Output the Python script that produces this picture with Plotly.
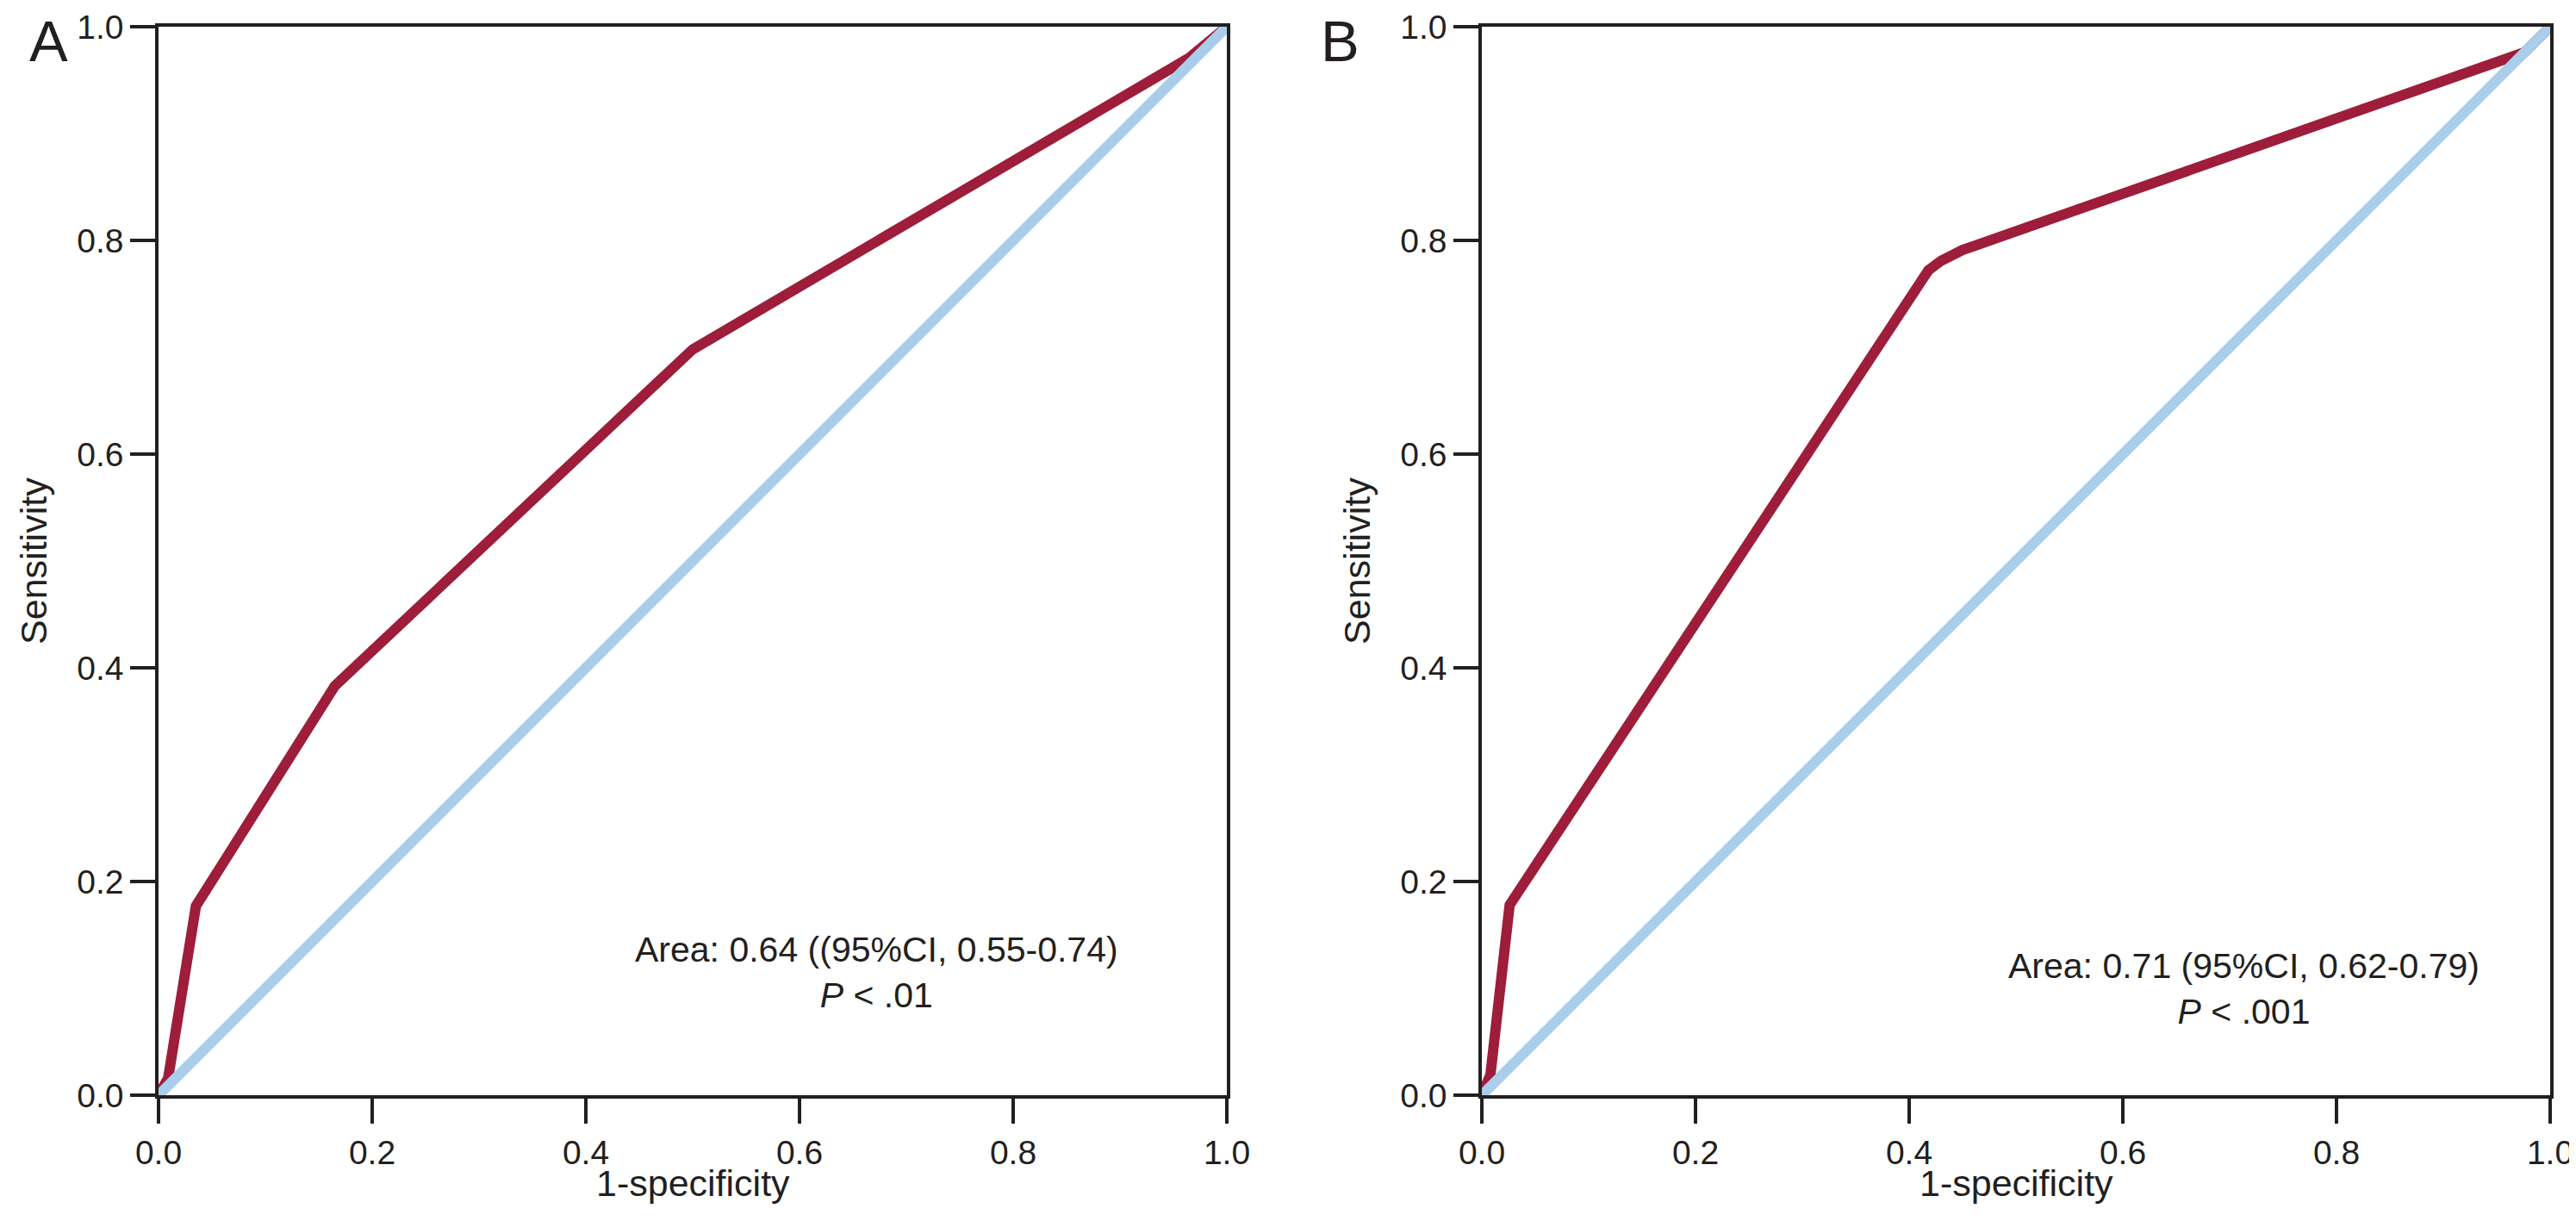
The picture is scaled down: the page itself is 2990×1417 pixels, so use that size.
import plotly.graph_objects as go

# Panel A ROC curve
fpr_a = [0.0, 0.009, 0.035, 0.165, 0.5, 0.965, 1.0]
tpr_a = [0.0, 0.016, 0.177, 0.383, 0.698, 0.971, 1.0]
# Panel B ROC curve
fpr_b = [0.0, 0.008, 0.026, 0.405, 0.418, 0.43, 0.45, 0.976, 1.0]
tpr_b = [0.0, 0.019, 0.178, 0.755, 0.772, 0.781, 0.791, 0.976, 1.0]
# Reference diagonal
diag = [0.0, 1.0]

tick_vals = [0.0, 0.2, 0.4, 0.6, 0.8, 1.0]
tick_text = ["0.0", "0.2", "0.4", "0.6", "0.8", "1.0"]

x_title = "1-specificity"
y_title = "Sensitivity"
panel_labels = ["A", "B"]
text_a = "Area: 0.64 ((95%CI, 0.55-0.74)<br><i>P</i> &lt; .01"
text_b = "Area: 0.71 (95%CI, 0.62-0.79)<br><i>P</i> &lt; .001"

RED = "#9D1D3B"
BLUE = "#A9CDEB"
INK = "#231F20"
FONT = "Liberation Sans, Arial, Helvetica, sans-serif"

W, H = 2990, 1417
ML, MR, MT, MB = 176, 38, 23, 154
pw = W - ML - MR
ph = H - MT - MB
side = 1240
b_left = W - MR - side

fig = go.Figure()
for xs, ys, xa, ya in [(fpr_a, tpr_a, "x", "y"), (fpr_b, tpr_b, "x2", "y2")]:
    fig.add_trace(go.Scatter(x=xs, y=ys, mode="lines", xaxis=xa, yaxis=ya,
                             line=dict(color=RED, width=12), showlegend=False,
                             hoverinfo="skip"))
    fig.add_trace(go.Scatter(x=diag, y=diag, mode="lines", xaxis=xa, yaxis=ya,
                             line=dict(color=BLUE, width=12), showlegend=False,
                             hoverinfo="skip"))

axis_common = dict(
    range=[0, 1], tickvals=tick_vals, ticktext=tick_text,
    showgrid=False, zeroline=False, showline=True, linecolor=INK,
    linewidth=3.5, mirror=True, ticks="outside", ticklen=29, tickwidth=3.5,
    tickcolor=INK, tickfont=dict(size=39, color=INK, family=FONT),
    fixedrange=True,
)
xdomA = [0, side / pw]
xdomB = [(b_left - ML) / pw, 1]

fig.update_layout(
    width=W, height=H,
    margin=dict(l=ML, r=MR, t=MT, b=MB, autoexpand=False),
    paper_bgcolor="white", plot_bgcolor="white",
    font=dict(family=FONT, color=INK),
    xaxis=dict(domain=xdomA, anchor="y", **axis_common),
    yaxis=dict(domain=[0, 1], anchor="x", **axis_common),
    xaxis2=dict(domain=xdomB, anchor="y2", **axis_common),
    yaxis2=dict(domain=[0, 1], anchor="x2", **axis_common),
)

annos = [
    dict(text=text_a, x=0.672, y=0.115, xref="x", yref="y", showarrow=False,
         font=dict(size=41), align="center", xanchor="center", yanchor="middle"),
    dict(text=text_b, x=0.713, y=0.100, xref="x2", yref="y2", showarrow=False,
         font=dict(size=41), align="center", xanchor="center", yanchor="middle"),
]
letter_x = [-0.103, -0.133]
for i, (xa, ya) in enumerate([("x", "y"), ("x2", "y2")]):
    annos.append(dict(text=x_title, x=0.5, y=-0.082, xref=f"{xa} domain", yref=f"{ya} domain",
                      showarrow=False, font=dict(size=43), xanchor="center", yanchor="middle"))
    annos.append(dict(text=y_title, x=-0.117, y=0.5, xref=f"{xa} domain", yref=f"{ya} domain",
                      showarrow=False, font=dict(size=43), textangle=-90,
                      xanchor="center", yanchor="middle"))
    annos.append(dict(text=panel_labels[i], x=letter_x[i], y=0.987,
                      xref=f"{xa} domain", yref=f"{ya} domain",
                      showarrow=False, font=dict(size=67), xanchor="center", yanchor="middle"))
fig.update_layout(annotations=annos)

fig.write_html("out.html")
